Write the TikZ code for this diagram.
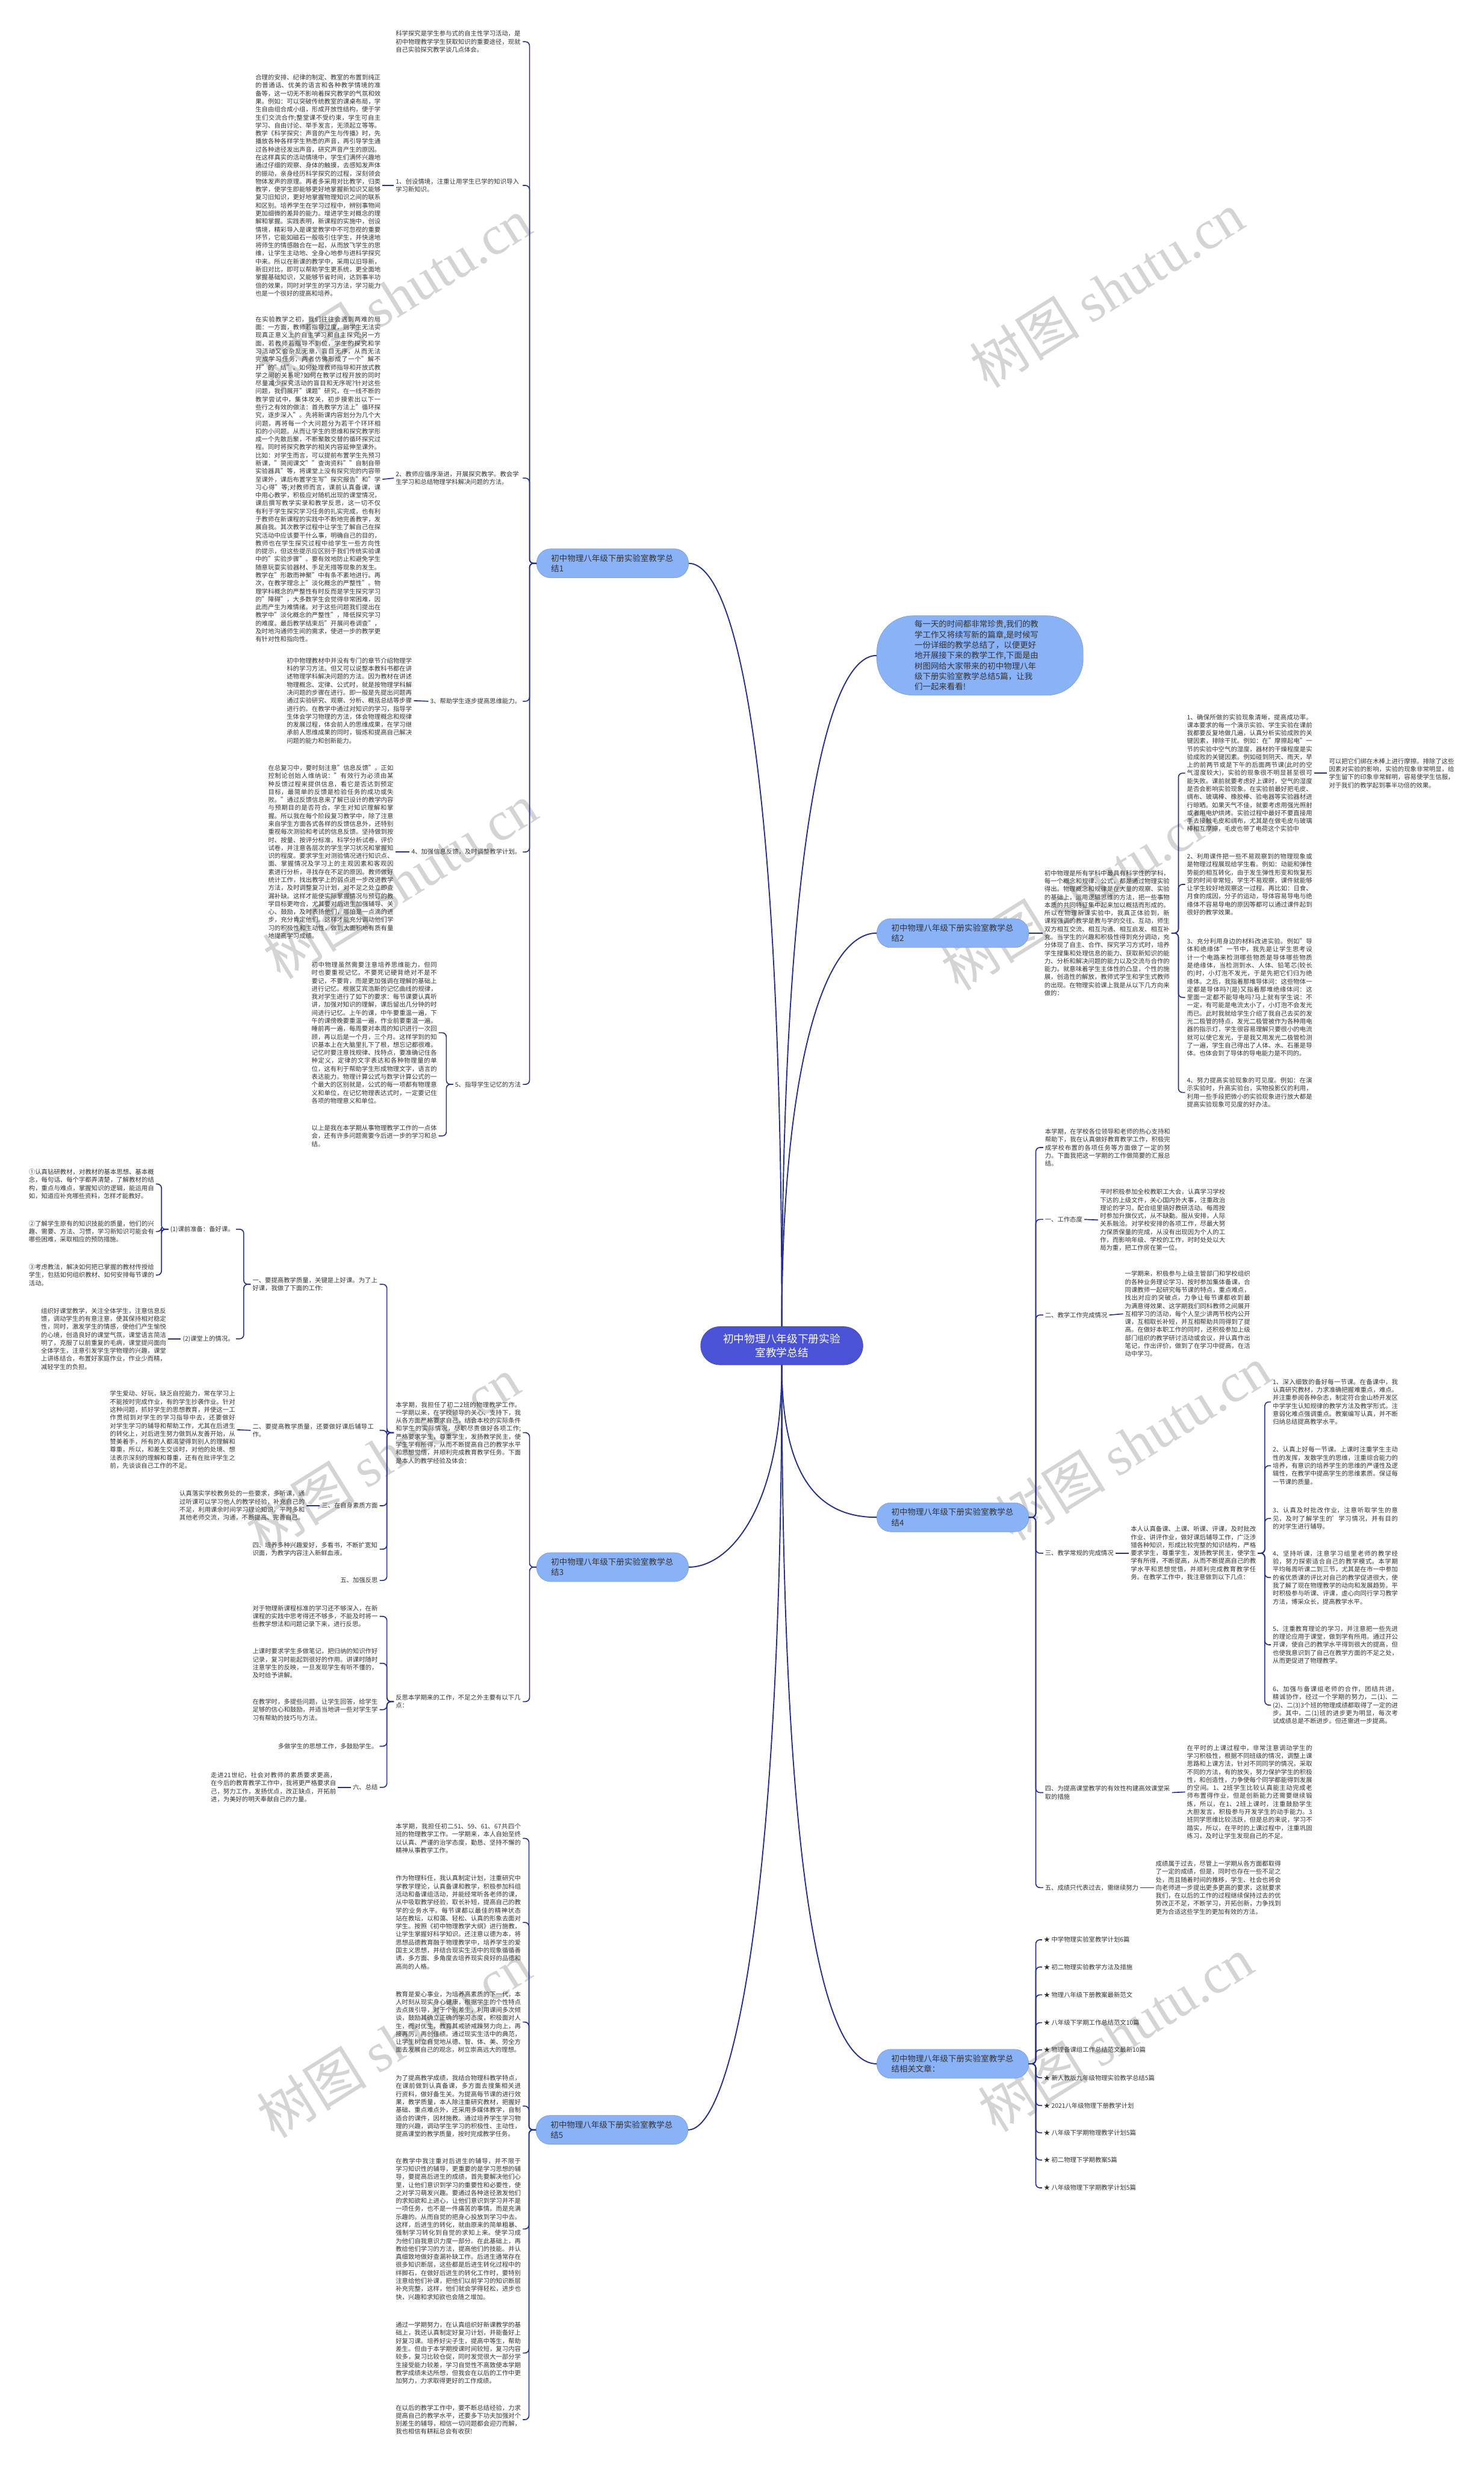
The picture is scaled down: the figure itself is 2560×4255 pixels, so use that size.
\documentclass[tikz,border=0pt]{standalone}
\usepackage{fontspec}
\setmainfont{Noto Sans CJK SC}
\newfontfamily\wmserif{Liberation Serif}
\XeTeXlinebreaklocale "zh"
\XeTeXlinebreakskip=0pt plus 1pt
\definecolor{lc}{HTML}{25308C}
\definecolor{txt}{HTML}{333333}
\definecolor{bfill}{HTML}{8AB2F7}
\definecolor{cfill}{HTML}{4A52D6}
\definecolor{wmc}{HTML}{D4D4D4}
\newcommand\smallfs{\fontsize{10.75}{13.8}\selectfont}
\newcommand\brfs{\fontsize{14}{18}\selectfont}
\newcommand\cenfs{\fontsize{18.4}{23}\selectfont}
\tikzset{
 conn/.style={draw=lc, line width=1.7pt, rounded corners=7pt},
 bigc/.style={draw=lc, line width=2pt},
 para/.style={font=\smallfs, text=txt, text width=216pt, align=justify, inner xsep=3pt, inner ysep=1pt},
 lab/.style={font=\smallfs, text=txt, align=left, inner xsep=3pt, inner ysep=1pt},
 labw/.style={font=\smallfs, text=txt, text width=216pt, align=left, inner xsep=3pt, inner ysep=1pt},
 bnode/.style={fill=bfill, draw=bfill!85!black, line width=0.6pt, rounded corners=24pt, font=\brfs, text=txt, text width=212pt, align=left, inner xsep=25pt, inner ysep=7pt, minimum height=50pt},
 intronode/.style={fill=bfill, draw=bfill!85!black, line width=0.6pt, rounded corners=62pt, font=\brfs, text=txt, text width=226pt, align=left, inner xsep=65pt, inner ysep=8pt},
 cnode/.style={fill=cfill, draw=cfill!85!black, line width=0.6pt, rounded corners=33pt, font=\cenfs, text=white, align=center, minimum width=280pt, minimum height=66pt},
 wm/.style={font=\fontsize{95}{100}\selectfont, text=wmc, rotate=32}
}
\begin{document}
\begin{tikzpicture}[x=1pt,y=-1pt]
\useasboundingbox[fill=white] (0,0) rectangle (2560,4255);
% watermarks
\foreach \wx/\wy [count=\i] in {680/510,1910/500,690/1520,1860/1540,660/2510,1955/2490,680/3520,1925/3510}
  \node[wm] (w\i) at (\wx,\wy) {树图 {\wmserif shutu.cn}};

% central
\node[cnode] (cen) at (1349,2322) {初中物理八年级下册实验\\室教学总结};

% ===== Branch 1 =====
\node[bnode] (b1) at (1057,972) {初中物理八年级下册实验室教学总结1};
\node[labw, anchor=east] (c0) at (902,72) {科学探究是学生参与式的自主性学习活动，是初中物理教学学生获取知识的重要途径，现就自己实验探究教学谈几点体会。};
\node[labw, anchor=east] (c1) at (902,320) {1、创设情境，注重让用学生已学的知识导入学习新知识。};
\node[labw, anchor=east] (c2) at (902,825) {2、教师应循序渐进，开展探究教学。教会学生学习和总结物理学科解决问题的方法。};
\node[lab, anchor=east] (c3) at (902,1210) {3、帮助学生逐步提高思维能力。};
\node[lab, anchor=east] (c4) at (902,1470) {4、加强信息反馈，及时调整教学计划。};
\node[lab, anchor=east] (c5) at (902,1871) {5、指导学生记忆的方法};
\node[para, anchor=east] (c1p) at (660,320) {合理的安排、纪律的制定、教室的布置到纯正的普通话、优美的语言和各种教学情境的准备等，这一切无不影响着探究教学的气氛和效果。例如：可以突破传统教室的课桌布局，学生自由组合成小组，形成开放性结构，便于学生们交流合作;整堂课不受约束，学生可自主学习、自由讨论、举手发言，无须起立等等。教学《科学探究：声音的产生与传播》时，先播放各种各样学生熟悉的声音，再引导学生通过各种途径发出声音，研究声音产生的原因。在这样真实的活动情境中，学生们满怀兴趣地通过仔细的观察、身体的触摸，去感知发声体的振动，亲身经历科学探究的过程，深刻领会物体发声的原理。再者多采用对比教学，归类教学，使学生即能够更好地掌握新知识又能够复习旧知识，更好地掌握物理知识之间的联系和区别。培养学生在学习过程中，辨别事物间更加细微的差异的能力。增进学生对概念的理解和掌握。实践表明，新课程的实施中，创设情境，精彩导入是课堂教学中不可忽视的重要环节，它能如磁石一般吸引住学生，并快速地将师生的情感融合在一起，从而放飞学生的思维，让学生主动地、全身心地参与进科学探究中来。所以在新课的教学中，采用以旧导新，新旧对比，即可以帮助学生更系统，更全面地掌握基础知识，又能够节省时间，达到事半功倍的效果，同时对学生的学习方法，学习能力也是一个很好的提高和培养。};
\node[para, anchor=east] (c2p) at (660,827) {在实验教学之初，我们往往会遇到两难的局面：一方面，教师若指导过度，则学生无法实现真正意义上的自主学习和自主探究;另一方面，若教师若指导不到位，学生的探究和学习活动又会杂乱无章，盲目无序，从而无法完成学习任务，两者仿佛形成了一个"解不开"的"结"。如何处理教师指导和开放式教学之间的关系呢?如何在教学过程开放的同时尽量减少探究活动的盲目和无序呢?针对这些问题，我们展开"课题"研究，在一线不断的教学尝试中，集体攻关，初步摸索出以下一些行之有效的做法：首先教学方法上"循环探究，逐步深入"。先将新课内容划分为几个大问题，再将每一个大问题分为若干个环环相扣的小问题。从而让学生的思维和探究教学形成一个先散后聚，不断聚散交替的循环探究过程。同时将探究教学的相关内容延伸至课外。比如：对学生而言，可以提前布置学生先预习新课，"简阅课文""查询资料""自制自带实验器具"等，将课堂上没有探究完的内容带至课外，课后布置学生写"探究报告"和"学习心得"等;对教师而言，课前认真备课，课中用心教学，积极应对随机出现的课堂情况，课后撰写教学实录和教学反思，这一切不仅有利于学生探究学习任务的扎实完成，也有利于教师在新课程的实践中不断地完善教学，发展自我。其次教学过程中让学生了解自己在探究活动中应该要干什么事，明确自己的目的，教师也在学生探究过程中给学生一些方向性的提示，但这些提示应区别于我们传统实验课中的"实验步骤"。要有效地防止和避免学生随意玩耍实验器材、手足无措等现象的发生。教学在"形散而神聚"中有条不紊地进行。再次，在教学理念上"淡化概念的严整性"。物理学科概念的严整性有时反而是学生探究学习的"障碍"，大多数学生会觉得非常困难，因此而产生为难情绪。对于这些问题我们提出在教学中"淡化概念的严整性"，降低探究学习的难度。最后教学结束后"开展问卷调查"，及时地沟通师生间的需求，使进一步的教学更有针对性和指向性。};
\node[para, anchor=east] (c3p) at (714,1209) {初中物理教材中并没有专门的章节介绍物理学科的学习方法。但又可以说整本教科书都在讲述物理学科解决问题的方法。因为教材在讲述物理概念、定律、公式时，就是按物理学科解决问题的步骤在进行。即一般是先提出问题再通过实验研究、观察、分析、概括总结等步骤进行的。在教学中通过对知识的学习，指导学生体会学习物理的方法，体会物理概念和规律的发展过程，体会前人的思维成果，在学习继承前人思维成果的同时，锻炼和提高自己解决问题的能力和创新能力。};
\node[para, anchor=east] (c4p) at (682,1470) {在总复习中，要时刻注意"信息反馈"。正如控制论创始人维纳说："有效行为必须由某种反馈过程来提供信息，看它是否达到预定目标，最简单的反馈是检验任务的成功或失败。"通过反馈信息来了解已设计的教学内容与预期目的是否符合，学生对知识理解和掌握。所以我在每个阶段复习教学中，除了注意来自学生方面各式各样的反馈信息外，还特别重视每次测验和考试的信息反馈。坚持做到按时、按量、按评分标准，科学分析试卷，评价试卷，并注意各层次的学生学习状况和掌握知识的程度。要求学生对测验情况进行知识点、面、掌握情况及学习上的主观因素和客观因素进行分析，寻找存在不足的原因。教师做好统计工作，找出教学上的弱点进一步改进教学方法，及时调整复习计划，对不足之处立即查漏补缺。这样才能使实际掌握情况与预订的教学目标更吻合，尤其要对后进生加强辅导、关心、鼓励，及时表扬他们，哪怕是一点滴的进步，充分肯定他们。这样才能充分调动他们学习的积极性和主动性，做到大面积地有质有量地提高学习成绩。};
\node[para, anchor=east] (c5a) at (757,1782) {初中物理虽然需要注意培养思维能力，但同时也要重视记忆，不要死记硬背绝对不是不要记，不要背，而是更加强调在理解的基础上进行记忆。根据艾宾浩斯的记忆曲线的规律，我对学生进行了如下的要求：每节课要认真听讲，加强对知识的理解，课后留出几分钟的时间进行记忆。上午的课，中午要重温一遍，下午的课傍晚要重温一遍，作业前要重温一遍。睡前再一遍，每周要对本周的知识进行一次回顾，再以后是一个月，三个月。这样学到的知识基本上在大脑里扎下了根，想忘记都很难。记忆时要注意找规律、找特点，要准确记住各种定义，定律的文字表达和各种物理量的单位，这有利于帮助学生形成物理文字，语言的表达能力。物理计算公式与数学计算公式的一个最大的区别就是，公式的每一项都有物理意义和单位，在记忆物理表达式时，一定要记住各项的物理意义和单位。};
\node[para, anchor=east] (c5b) at (757,1960) {以上是我在本学期从事物理教学工作的一点体会，还有许多问题需要今后进一步的学习和总结。};
\foreach \n in {c0,c1,c2,c3,c4,c5} \draw[conn] (b1.west) -- ++(-12,0) |- (\n.east);
\draw[conn] (c1.west) -- (c1p.east);
\draw[conn] (c2.west) -- (c2p.east);
\draw[conn] (c3.west) -- (c3p.east);
\draw[conn] (c4.west) -- (c4p.east);
\foreach \n in {c5a,c5b} \draw[conn] (c5.west) -- ++(-12,0) |- (\n.east);

% ===== Branch 3 =====
\node[bnode] (b3) at (1057,2704) {初中物理八年级下册实验室教学总结3};
\node[para, anchor=east] (d0) at (902,2472) {本学期，我担任了初二2班的物理教学工作。一学期以来，在学校领导的关心、支持下，我从各方面严格要求自己，结合本校的实际条件和学生的实际情况，尽职尽责做好各项工作;严格要求学生，尊重学生，发扬教学民主，使学生学有所得，从而不断提高自己的教学水平和思想觉悟，并顺利完成教育教学任务。下面是本人的教学经验及体会：};
\node[labw, anchor=east] (d1) at (902,2936) {反思本学期来的工作，不足之外主要有以下几点：};
\foreach \n in {d0,d1} \draw[conn] (b3.west) -- ++(-12,0) |- (\n.east);
\node[labw, anchor=east] (e1) at (655,2216) {一、要提高教学质量，关键是上好课。为了上好课，我做了下面的工作:};
\node[labw, anchor=east] (e2) at (655,2468) {二、要提高教学质量，还要做好课后辅导工作。};
\node[lab, anchor=east] (e3) at (655,2598) {三、在自身素质方面};
\node[labw, anchor=east] (e4) at (655,2673) {四、培养多种兴趣爱好，多看书，不断扩宽知识面，为教学内容注入新鲜血液。};
\node[lab, anchor=east] (e5) at (655,2727) {五、加强反思};
\foreach \n in {e1,e2,e3,e4,e5} \draw[conn] (d0.west) -- ++(-12,0) |- (\n.east);
\node[lab, anchor=east] (f1) at (407,2121) {(1)课前准备：备好课。};
\node[lab, anchor=east] (f2) at (407,2310) {(2)课堂上的情况。};
\foreach \n in {f1,f2} \draw[conn] (e1.west) -- ++(-12,0) |- (\n.east);
\node[para, anchor=east] (g1) at (269,2043) {①认真钻研教材，对教材的基本思想、基本概念，每句话、每个字都弄清楚，了解教材的结构，重点与难点，掌握知识的逻辑，能运用自如，知道应补充哪些资料，怎样才能教好。};
\node[para, anchor=east] (g2) at (269,2125) {②了解学生原有的知识技能的质量，他们的兴趣、需要、方法、习惯，学习新知识可能会有哪些困难，采取相应的预防措施。};
\node[para, anchor=east] (g3) at (269,2200) {③考虑教法，解决如何把已掌握的教材传授给学生，包括如何组织教材、如何安排每节课的活动。};
\foreach \n in {g1,g2,g3} \draw[conn] (f1.west) -- ++(-12,0) |- (\n.east);
\node[para, anchor=east] (g4) at (290,2310) {组织好课堂教学，关注全体学生，注意信息反馈，调动学生的有意注意，使其保持相对稳定性，同时，激发学生的情感，使他们产生愉悦的心境，创造良好的课堂气氛，课堂语言简洁明了，克服了以前重复的毛病，课堂提问面向全体学生，注意引发学生学物理的兴趣，课堂上讲练结合，布置好家庭作业，作业少而精，减轻学生的负担。};
\draw[conn] (f2.west) -- (g4.east);
\node[para, anchor=east] (g5) at (409,2467) {学生爱动、好玩，缺乏自控能力，常在学习上不能按时完成作业，有的学生抄袭作业。针对这种问题，抓好学生的思想教育，并使这一工作贯彻到对学生的学习指导中去，还要做好对学生学习的辅导和帮助工作，尤其在后进生的转化上，对后进生努力做到从友善开始，从赞美着手，所有的人都渴望得到别人的理解和尊重，所以，和差生交谈时，对他的处境、想法表示深刻的理解和尊重，还有在批评学生之前，先谈谈自己工作的不足。};
\draw[conn] (e2.west) -- (g5.east);
\node[para, anchor=east] (g6) at (529,2598) {认真落实学校教务处的一些要求，多听课，通过听课可以学习他人的教学经验，补充自己的不足，利用课余时间学习理论知识，平时多和其他老师交流，沟通，不断提高、完善自己。};
\draw[conn] (e3.west) -- (g6.east);
\node[para, anchor=east] (h1) at (655,2789) {对于物理新课程标准的学习还不够深入，在新课程的实践中思考得还不够多，不能及时将一些教学想法和问题记录下来，进行反思。};
\node[para, anchor=east] (h2) at (655,2870) {上课时要求学生多做笔记，把归纳的知识作好记录，复习时能起到很好的作用。讲课时随时注意学生的反映，一旦发现学生有听不懂的，及时给予讲解。};
\node[para, anchor=east] (h3) at (655,2950) {在教学时，多提些问题，让学生回答，给学生足够的信心和鼓励，并适当地讲一些对学生学习有帮助的技巧与方法。};
\node[lab, anchor=east] (h4) at (655,3013) {多做学生的思想工作，多鼓励学生。};
\node[lab, anchor=east] (h5) at (655,3084) {六、总结};
\foreach \n in {h1,h2,h3,h4,h5} \draw[conn] (d1.west) -- ++(-12,0) |- (\n.east);
\node[para, anchor=east] (g7) at (583,3084) {走进21世纪，社会对教师的素质要求更高，在今后的教育教学工作中，我将更严格要求自己，努力工作，发扬优点，改正缺点，开拓前进，为美好的明天奉献自己的力量。};
\draw[conn] (h5.west) -- (g7.east);

% ===== Branch 5 =====
\node[bnode] (b5) at (1056,3675) {初中物理八年级下册实验室教学总结5};
\node[para, anchor=east] (k1) at (902,3172) {本学期，我担任初二51、59、61、67共四个班的物理教学工作。一学期来，本人自始至终以认真、严谨的治学态度，勤恳、坚持不懈的精神从事教学工作。};
\node[para, anchor=east] (k2) at (902,3317) {作为物理科任，我认真制定计划，注重研究中学教学理论，认真备课和教学，积极参加科组活动和备课组活动，并能经常听各老师的课，从中吸取教学经验，取长补短，提高自己的教学的业务水平。每节课都以最佳的精神状态站在教坛，以和蔼、轻松、认真的形象去面对学生。按照《初中物理教学大纲》进行施教，让学生掌握好科学知识。还注意以德为本，将思想品德教育融于物理教学中，培养学生的爱国主义思想，并结合现实生活中的现象循循善诱，多方面、多角度去培养现实良好的品德和高尚的人格。};
\node[para, anchor=east] (k3) at (902,3489) {教育是爱心事业，为培养高素质的下一代，本人时刻从现实身心健康，根据学生的个性特点去点拨引导，对于个别差生，利用课间多次倾谈，鼓励其确立正确的学习态度，积极面对人生，而对优生，教育其戒骄戒躁努力向上，再接再厉，再创佳绩。通过现实生活中的典范，让学生树立自觉地从德、智、体、美、劳全方面去发展自己的观念，树立崇高远大的理想。};
\node[para, anchor=east] (k4) at (902,3634) {为了提高教学成绩，我结合物理科教学特点，在课前做到认真备课，多方面去搜集相关进行资料，做好备生关。为提高每节课的进行效果，教学质量，本人除注重研究教材，把握好基础、重点难点外，还采用多媒体教学，自制适合的课件，因材施教。通过培养学生学习物理的兴趣，调动学生学习的积极性、主动性，提高课堂的教学质量，按时完成教学任务。};
\node[para, anchor=east] (k5) at (902,3846) {在教学中我注重对后进生的辅导，并不限于学习知识性的辅导，更重要的是学习思想的辅导，要提高后进生的成绩，首先要解决他们心里，让他们意识到学习的重要性和必要性，使之对学习萌发兴趣。要通过各种途径激发他们的求知欲和上进心，让他们意识到学习并不是一项任务，也不是一件痛苦的事情。而是充满乐趣的。从而自觉的把身心投放到学习中去。这样，后进生的转化，就由原来的简单粗暴、强制学习转化到自觉的求知上来。使学习成为他们自我意识力度一部分。在此基础上，再教给他们学习的方法，提高他们的技能。并认真细致地做好查漏补缺工作。后进生通常存在很多知识断层，这些都是后进生转化过程中的绊脚石，在做好后进生的转化工作时，要特别注意给他们补课，把他们以前学习的知识断层补充完整，这样，他们就会学得轻松，进步也快，兴趣和求知欲也会随之增加。};
\node[para, anchor=east] (k6) at (902,4060) {通过一学期努力，在认真组织好新课教学的基础上，我还认真制定好复习计划，并能备好上好复习课。培养好尖子生，提高中等生，帮助差生。但由于本学期授课时间较短，复习内容较多，复习比较仓促，同时发觉很大一部分学生接受能力较差，学习自觉性不高致使本学期教学成绩未达所想，但我会在以后的工作中更加努力，力求取得更好的工作成绩。};
\node[para, anchor=east] (k7) at (902,4175) {在以后的教学工作中，要不断总结经验，力求提高自己的教学水平，还要多下功夫加强对个别差生的辅导，相信一切问题都会迎刃而解，我也相信有耕耘总会有收获!};
\foreach \n in {k1,k2,k3,k4,k5,k6,k7} \draw[conn] (b5.west) -- ++(-12,0) |- (\n.east);

% ===== Intro =====
\node[intronode] (intro) at (1691,1131) {每一天的时间都非常珍贵,我们的教\\学工作又将续写新的篇章,是时候写\\一份详细的教学总结了，以便更好\\地开展接下来的教学工作,下面是由\\树图网给大家带来的初中物理八年\\级下册实验室教学总结5篇，让我\\们一起来看看!};

% ===== Branch 2 =====
\node[bnode] (b2) at (1644,1610) {初中物理八年级下册实验室教学总结2};
\node[para, anchor=west] (p0) at (1799,1610) {初中物理是所有学科中最具有科学性的学科，每一个概念和规律、公式，都是通过物理实验得出。物理概念和规律是在大量的观察、实验的基础上，运用逻辑思维的方法，把一些事物本质的共同特征集中起来加以概括而形成的。所以在物理新课实验中，我真正体验到，新课程强调的教学是教与学的交往、互动，师生双方相互交流、相互沟通、相互启发、相互补充。当学生的兴趣和积极性得到充分调动，充分体现了自主、合作、探究学习方式时，培养学生搜集和处理信息的能力、获取新知识的能力、分析和解决问题的能力以及交流与合作的能力。就意味着学生主体性的凸显，个性的施展，创造性的解放，教师式学生和学生式教师的出现。在物理实验课上我是从以下几方向来做的：};
\draw[conn] (b2.east) -- (p0.west);
\node[para, anchor=west] (q1) at (2045,1334) {1、确保所做的实验现象清晰，提高成功率。课本要求的每一个演示实验、学生实验在课前我都要反复地做几遍，认真分析实验成败的关键因素，排除干扰。例如：在"摩擦起电"一节的实验中空气的湿度，器材的干燥程度是实验成败的关键因素。例如碰到阴天、雨天，早上的前两节或是下午的后面两节课(此时的空气湿度较大)，实验的现象很不明显甚至很可能失败。课前就要考虑好上课时，空气的湿度是否会影响实验现象。在实验前最好把毛皮、绸布、玻璃棒、橡胶棒、验电器等实验器材进行晾晒。如果天气不佳，就要考虑用强光照射或者用电炉烘烤。实验过程中最好不要直接用手去接触毛皮和绸布，尤其是在做毛皮与玻璃棒相互摩擦，毛皮也带了电荷这个实验中};
\node[para, anchor=west] (q2) at (2045,1526) {2、利用课件把一些不易观察到的物理现象或是物理过程展现给学生看。例如：动能和弹性势能的相互转化，由于发生弹性形变和恢复形变的时间非常短，学生不易观察，课件就能够让学生较好地观察这一过程。再比如：日食、月食的成因，分子的运动，导体容易导电与绝缘体不容易导电的原因等都可以通过课件起到很好的教学效果。};
\node[para, anchor=west] (q3) at (2045,1721) {3、充分利用身边的材料改进实验。例如"导体和绝缘体"一节中，我先是让学生思考设计一个电路来检测哪些物质是导体哪些物质是绝缘体，当检测到水、人体、铅笔芯(较长的)时，小灯泡不发光，于是先把它们归为绝缘体。之后，我指着那堆导体问：这些物体一定都是导体吗?(是)又指着那堆绝缘体问：这里面一定都不能导电吗?马上就有学生说：不一定，有可能是电流太小了，小灯泡不会发光而已。此时我就给学生介绍了我自己去买的发光二极管的特点，发光二极管被作为各种用电器的指示灯，学生很容易理解只要很小的电流就可以使它发光，于是我又用发光二极管检测了一遍，学生自己得出了人体、水、石墨是导体。也体会到了导体的导电能力是不同的。};
\node[para, anchor=west] (q4) at (2045,1885) {4、努力提高实验现象的可见度。例如：在演示实验时，升高实验台，实物投影仪的利用，利用一些手段把微小的实验现象进行放大都是提高实验现象可见度的好办法。};
\foreach \n in {q1,q2,q3,q4} \draw[conn] (p0.east) -- ++(12,0) |- (\n.west);
\node[para, anchor=west] (r1) at (2290,1334) {可以把它们绑在木棒上进行摩擦。排除了这些因素对实验的影响，实验的现象非常明显，给学生留下的印象非常鲜明，容易使学生信服，对于我们的教学起到事半功倍的效果。};
\draw[conn] (q1.east) -- (r1.west);

% ===== Branch 4 =====
\node[bnode] (b4) at (1644,2618) {初中物理八年级下册实验室教学总结4};
\node[para, anchor=west] (s0) at (1800,1980) {本学期，在学校各位领导和老师的热心支持和帮助下，我在认真做好教育教学工作，积极完成学校布置的各项任务等方面做了一定的努力。下面我把这一学期的工作做简要的汇报总结。};
\node[lab, anchor=west] (s1) at (1800,2104) {一、工作态度};
\node[lab, anchor=west] (s2) at (1800,2269) {二、教学工作完成情况};
\node[lab, anchor=west] (s3) at (1800,2680) {三、教学常规的完成情况};
\node[labw, anchor=west] (s4) at (1800,3093) {四、为提高课堂教学的有效性构建高效课堂采取的措施};
\node[lab, anchor=west] (s5) at (1800,3257) {五、成绩只代表过去，需继续努力};
\foreach \n in {s0,s1,s2,s3,s4,s5} \draw[conn] (b4.east) -- ++(12,0) |- (\n.west);
\node[para, anchor=west] (t1) at (1895,2105) {平时积极参加全校教职工大会，认真学习学校下达的上级文件，关心国内外大事，注重政治理论的学习。配合组里搞好教研活动。每周按时参加升旗仪式，从不缺勤。服从安排，人际关系融洽。对学校安排的各项工作，尽最大努力保质保量的完成，从没有出现因为个人的工作，而影响年级、学校的工作，时时处处以大局为重，把工作房在第一位。};
\draw[conn] (s1.east) -- (t1.west);
\node[para, anchor=west] (t2) at (1938,2267) {一学期来，积极参与上级主管部门和学校组织的各种业务理论学习、按时参加集体备课，合同课教师一起研究每节课的特点，重点难点，找出对应的突破点，力争让每节课都收到最为满意得效果、这学期我们同科教师之间展开互相学习的活动，每个人至少讲两节校内公开课，互相取长补短，并互相帮助共同得到了提高。在做好本职工作的同时，还积极参加上级部门组织的教学研讨活动或会议，并认真作出笔记，作出评价，做到了在学习中提高，在活动中学习。};
\draw[conn] (s2.east) -- (t2.west);
\node[para, anchor=west] (t3) at (1948,2680) {本人认真备课、上课、听课、评课，及时批改作业、讲评作业，做好课后辅导工作，广泛涉猎各种知识，形成比较完整的知识结构，严格要求学生，尊重学生，发扬教学民主，使学生学有所得，不断提高，从而不断提高自己的教学水平和思想觉悟，并顺利完成教育教学任务。在教学工作中，我注意做到以下几点：};
\draw[conn] (s3.east) -- (t3.west);
\node[para, anchor=west] (u1) at (2193,2419) {1、深入细致的备好每一节课。在备课中，我认真研究教材，力求准确把握难重点，难点。并注重参阅各种杂志，制定符合金山桥开发区中学学生认知规律的教学方法及教学形式。注意弱化难点强调重点。教案编写认真，并不断归纳总结提高教学水平。};
\node[para, anchor=west] (u2) at (2193,2529) {2、认真上好每一节课。上课时注重学生主动性的发挥，发散学生的思维，注重综合能力的培养，有意识的培养学生的思维的严谨性及逻辑性，在教学中提高学生的思维素质。保证每一节课的质量。};
\node[para, anchor=west] (u3) at (2193,2620) {3、认真及时批改作业，注意听取学生的意见，及时了解学生的'学习情况，并有目的的对学生进行辅导。};
\node[para, anchor=west] (u4) at (2193,2722) {4、坚持听课，注意学习组里老师的教学经验，努力探索适合自己的教学模式。本学期平均每周听课二到三节，尤其是在市一中参加的省优质课的评比对自己的教学促进很大，使我了解了现在物理教学的动向和发展趋势。平时积极参与听课、评课，虚心向同行学习教学方法，博采众长，提高教学水平。};
\node[para, anchor=west] (u5) at (2193,2838) {5、注重教育理论的学习，并注意把一些先进的理论应用于课堂，做到学有所用。通过开公开课，使自己的教学水平得到很大的提高，但也使我意识到了自己在教学方面的不足之处，从而更促进了物理教学。};
\node[para, anchor=west] (u6) at (2193,2942) {6、加强与备课组老师的合作，团结共进，精诚协作，经过一个学期的努力，二(1)、二(2)、二(3)3个班的物理成绩都取得了一定的进步。其中，二(1)班的进步更为明显，每次考试成绩总是不断进步。但还需进一步提高。};
\foreach \n in {u1,u2,u3,u4,u5,u6} \draw[conn] (t3.east) -- ++(12,0) |- (\n.west);
\node[para, anchor=west] (t4) at (2045,3092) {在平时的上课过程中，非常注意调动学生的学习积极性，根据不同班级的情况，调整上课思路和上课方法，针对不同同学的情况，采取不同的方法，有的放矢，努力保护学生的积极性，和创造性，力争使每个同学都能得到发展的空间。1、2班学生比较认真能主动完成老师布置得作业，但是创新能力还需要继续锻炼，所以，在1、2班上课时，注重鼓励学生大胆发言，积极参与开发学生的动手能力。3班同学思维比较活跃，但是总的来说，学习不踏实，所以，在平时的上课过程中，注重巩固练习，及时让学生发现自己的不足。};
\draw[conn] (s4.east) -- (t4.west);
\node[para, anchor=west] (t5) at (1991,3257) {成绩属于过去，尽管上一学期从各方面都取得了一定的成绩，但是，同时也存在一些不足之处，而且随着时间的推移，学生、社会也将会向老师进一步提出更多更高的要求，这就要求我们，在以后的工作的过程继续保持过去的优势改正不足，不断学习，开拓创新，力争找到更为合适这些学生的更加有效的方法。};
\draw[conn] (s5.east) -- (t5.west);

% ===== Related =====
\node[bnode] (b6) at (1644,3561) {初中物理八年级下册实验室教学总结相关文章：};
\foreach \t/\yy [count=\i] in {中学物理实验室教学计划6篇/3347, 初二物理实验教学方法及措施/3394, 物理八年级下册教案最新范文/3442, 八年级下学期工作总结范文10篇/3490, 物理备课组工作总结范文最新10篇/3537, 新人教版九年级物理实验教学总结5篇/3585, 2021八年级物理下册教学计划/3633, 八年级下学期物理教学计划5篇/3680, 初二物理下学期教案5篇/3727, 八年级物理下学期教学计划5篇/3775}
{
  \node[lab, anchor=west] (a\i) at (1798,\yy) {★ \t};
  \draw[conn] (b6.east) -- ++(12,0) |- (a\i.west);
}

% ===== central curves =====
\draw[bigc] (cen.north) .. controls (1349,1250) and (1260,972) .. (b1.east);
\draw[bigc] (cen.north) .. controls (1349,1500) and (1420,1131) .. (intro.west);
\draw[bigc] (cen.north) .. controls (1349,1850) and (1420,1610) .. (b2.west);
\draw[bigc] (cen.south) .. controls (1349,2600) and (1260,2704) .. (b3.east);
\draw[bigc] (cen.south) .. controls (1349,2560) and (1420,2618) .. (b4.west);
\draw[bigc] (cen.south) .. controls (1349,3300) and (1260,3675) .. (b5.east);
\draw[bigc] (cen.south) .. controls (1349,3250) and (1420,3561) .. (b6.west);
\end{tikzpicture}
\end{document}
